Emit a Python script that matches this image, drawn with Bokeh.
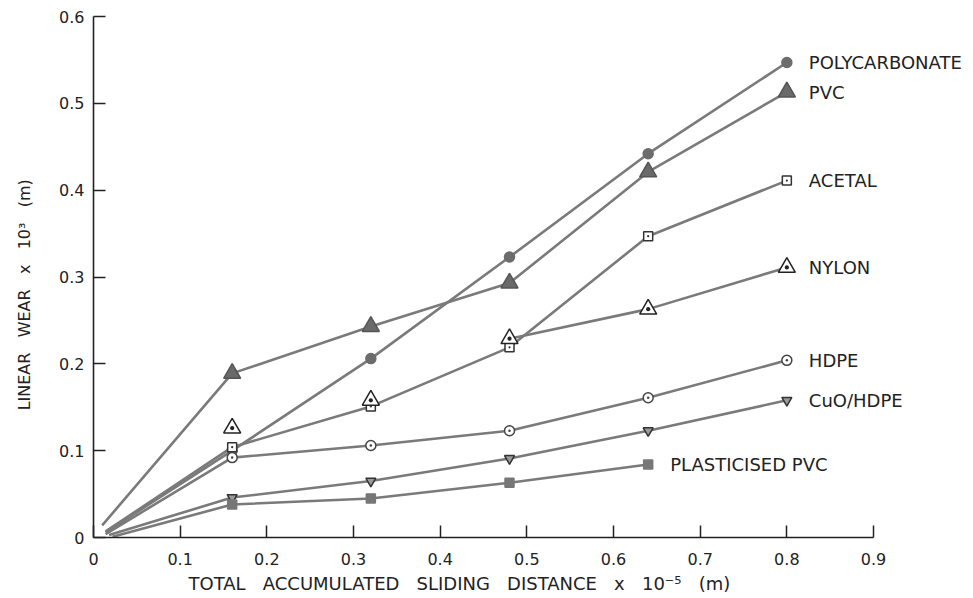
import math
from bokeh.plotting import figure
from bokeh.models import ColumnDataSource, Range1d, FixedTicker, Title
from bokeh.embed import file_html
from bokeh.resources import INLINE
from bokeh.core.properties import value

# ---------------- data ----------------
distance = [0.16, 0.32, 0.48, 0.64, 0.80]
polycarbonate = [0.100, 0.206, 0.323, 0.442, 0.547]
pvc = [0.189, 0.243, 0.293, 0.421, 0.513]
acetal = [0.104, 0.151, 0.219, 0.347, 0.411]
nylon = [0.126, 0.158, 0.229, 0.263, 0.311]
hdpe = [0.092, 0.106, 0.123, 0.161, 0.204]
cuo_hdpe = [0.046, 0.065, 0.091, 0.123, 0.158]
plasticised_pvc = [0.038, 0.045, 0.063, 0.084]

# line starting points near the origin
start_distance = {"POLYCARBONATE": 0.014, "PVC": 0.010, "ACETAL": 0.014,
                  "HDPE": 0.014, "CuO/HDPE": 0.018, "PLASTICISED PVC": 0.022}
start_wear = {"POLYCARBONATE": 0.006, "PVC": 0.014, "ACETAL": 0.007,
              "HDPE": 0.004, "CuO/HDPE": 0.003, "PLASTICISED PVC": 0.001}

x_ticks = [0, 0.1, 0.2, 0.3, 0.4, 0.5, 0.6, 0.7, 0.8, 0.9]
x_tick_labels = ["0", "0.1", "0.2", "0.3", "0.4", "0.5", "0.6", "0.7", "0.8", "0.9"]
y_ticks = [0, 0.1, 0.2, 0.3, 0.4, 0.5, 0.6]
y_tick_labels = ["0", "0.1", "0.2", "0.3", "0.4", "0.5", "0.6"]

SP3 = "\u00a0\u00a0\u00a0"
x_title = SP3.join(["TOTAL", "ACCUMULATED", "SLIDING", "DISTANCE", "x",
                    "10\u207b\u2075", "(m)"])
y_title = SP3.join(["LINEAR", "WEAR", "x", "10\u00b3", "(m)"])
Y_TITLE_PAD = "\u00a0" * 7   # shifts the vertical title down a little

# ---------------- styles ----------------
LINE = "#7a7a7a"
FONT = "DejaVu Sans"

series = [
    # name, values, marker, size, fill, line colour, line from index
    ("POLYCARBONATE", polycarbonate, "circle", 10, "#6c6c6c", "#6c6c6c", 0),
    ("PVC", pvc, "triangle", 17, "#6a6a6a", "#555555", 0),
    ("ACETAL", acetal, "square_dot", 9, "white", "#333333", 0),
    ("NYLON", nylon, "triangle_dot", 17, "white", "#222222", 2),
    ("HDPE", hdpe, "circle_dot", 10, "white", "#444444", 0),
    ("CuO/HDPE", cuo_hdpe, "inverted_triangle", 10, "#9a9a9a", "#333333", 0),
    ("PLASTICISED PVC", plasticised_pvc, "square", 9, "#777777", "#777777", 0),
]

p = figure(width=968, height=598, output_backend="svg", toolbar_location=None,
           x_range=Range1d(0, 1.0096), y_range=Range1d(0, 0.6),
           min_border_left=93, min_border_right=0, min_border_top=16,
           min_border_bottom=61)
p.outline_line_color = None
p.xgrid.visible = False
p.ygrid.visible = False
p.background_fill_color = "white"

for name, vals, marker, size, fill, lc, first in series:
    xs = distance[:len(vals)]
    lx = list(xs[first:])
    ly = list(vals[first:])
    if name in start_distance:
        lx = [start_distance[name]] + lx
        ly = [start_wear[name]] + ly
    p.line(lx, ly, line_color=LINE, line_width=2.6)

for name, vals, marker, size, fill, lc, first in series:
    xs = distance[:len(vals)]
    p.scatter(xs, vals, marker=marker, size=size, fill_color=fill,
              line_color=lc, line_width=1.5)

lab_src = ColumnDataSource(dict(
    x=[distance[len(s[1]) - 1] for s in series],
    y=[s[1][-1] for s in series],
    t=[s[0] for s in series],
))
p.text(x="x", y="y", text="t", source=lab_src, x_offset=22,
       text_baseline="middle", text_align="left",
       text_font=value(FONT), text_font_size="18px", text_color="#222222")

for ax, ticks, labels in ((p.xaxis[0], x_ticks, x_tick_labels),
                          (p.yaxis[0], y_ticks, y_tick_labels)):
    ax.ticker = FixedTicker(ticks=ticks)
    ax.major_label_overrides = {t: l for t, l in zip(ticks, labels)}
    ax.minor_tick_line_color = None
    ax.major_tick_in = 12
    ax.major_tick_out = 0
    ax.major_tick_line_color = "#222222"
    ax.major_tick_line_width = 1.5
    ax.axis_line_color = "#222222"
    ax.axis_line_width = 1.6
    ax.major_label_text_font = FONT
    ax.major_label_text_font_size = "16px"
    ax.major_label_text_color = "#222222"
    ax.axis_label_text_font = FONT
    ax.axis_label_text_font_style = "normal"
    ax.axis_label_text_color = "#222222"

p.xaxis.bounds = (0, 0.9)
p.yaxis.bounds = (0, 0.6)
p.xaxis.major_label_standoff = 15
p.yaxis.major_label_standoff = 9

p.add_layout(Title(text=x_title, align="left", offset=95, standoff=6,
                   text_font=FONT, text_font_size="18px",
                   text_font_style="normal", text_color="#222222"), "below")
p.yaxis.axis_label = y_title + Y_TITLE_PAD
p.yaxis.axis_label_text_font_size = "16px"
p.yaxis.axis_label_standoff = 22

open("out.html", "w").write(file_html(p, INLINE))
